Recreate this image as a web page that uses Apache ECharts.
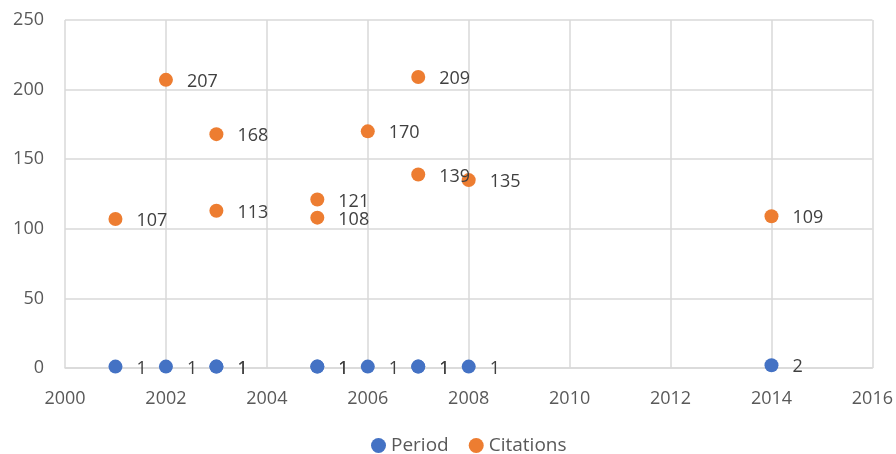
<!DOCTYPE html>
<html>
<head>
<meta charset="utf-8">
<script src="https://cdn.jsdelivr.net/npm/echarts@6/dist/echarts.min.js"></script>
<style>
  html, body { margin: 0; padding: 0; background: #fff; }
  #main { width: 896px; height: 454px; }
</style>
</head>
<body>
<div id="main"></div>
<script>
// years of each record
var years = [2001, 2002, 2003, 2003, 2005, 2005, 2006, 2007, 2007, 2008, 2014];
var period = [1, 1, 1, 1, 1, 1, 1, 1, 1, 1, 2];
var citations = [107, 207, 168, 113, 121, 108, 170, 209, 139, 135, 109];

var toPoints = function (vals) {
    return years.map(function (y, i) { return [y, vals[i]]; });
};

var myChart = echarts.init(document.getElementById('main'));

var labelStyle = {
    show: true,
    position: 'right',
    distance: 14,
    offset: [0, 2],
    color: '#404040',
    fontSize: 18,
    fontFamily: 'Open Sans',
    formatter: function (p) { return p.value[1]; }
};

var option = {
    animation: false,
    textStyle: { fontFamily: 'Open Sans' },
    grid: { left: 65, right: 22, top: 20, bottom: 86 },
    legend: {
        bottom: -6,
        left: 366,
        itemWidth: 15,
        itemHeight: 15,
        itemGap: 20,
        icon: 'circle',
        textStyle: { color: '#595959', fontSize: 19, fontFamily: 'Open Sans' },
        data: ['Period', 'Citations']
    },
    xAxis: {
        type: 'value',
        min: 2000,
        max: 2016,
        interval: 2,
        axisLine: { show: true, lineStyle: { color: '#d9d9d9', width: 1.5 } },
        axisTick: { show: false },
        splitLine: { show: true, lineStyle: { color: '#d9d9d9', width: 1.5 } },
        axisLabel: { color: '#595959', fontSize: 18, margin: 22, formatter: function (v) { return v; } }
    },
    yAxis: {
        type: 'value',
        min: 0,
        max: 250,
        interval: 50,
        axisLine: { show: false },
        axisTick: { show: false },
        splitLine: { show: true, lineStyle: { color: '#d9d9d9', width: 1.5 } },
        axisLabel: { color: '#595959', fontSize: 18, margin: 21 }
    },
    series: [
        {
            name: 'Period',
            type: 'scatter',
            symbolSize: 14,
            itemStyle: { color: '#4472C4', opacity: 1 },
            label: labelStyle,
            data: toPoints(period)
        },
        {
            name: 'Citations',
            type: 'scatter',
            symbolSize: 14,
            itemStyle: { color: '#ED7D31', opacity: 1 },
            label: labelStyle,
            data: toPoints(citations)
        }
    ]
};

myChart.setOption(option);
</script>
</body>
</html>
